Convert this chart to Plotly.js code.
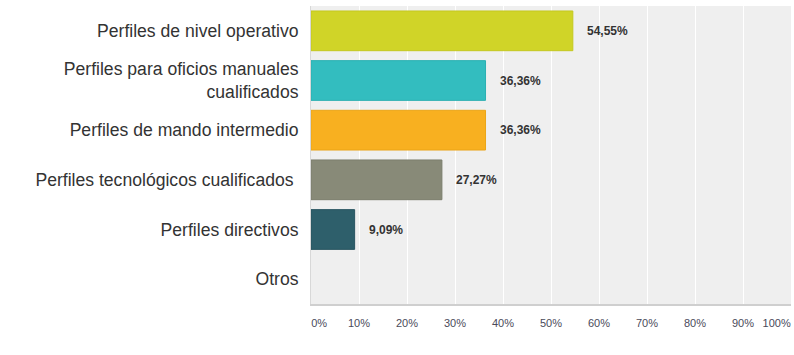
<!DOCTYPE html>
<html><head><meta charset="utf-8">
<script src="https://cdn.plot.ly/plotly-3.0.1.min.js"></script>
<style>html,body{margin:0;padding:0;background:#fff;}</style>
</head><body>
<div id="chart" style="width:794px;height:355px;"></div>
<script>
var categories = ["Perfiles de nivel operativo", "Perfiles para oficios manuales<br>cualificados", "Perfiles de mando intermedio", "Perfiles tecnológicos cualificados ", "Perfiles directivos", "Otros"];
var values = [54.55, 36.36, 36.36, 27.27, 9.09, 0];
var valueLabels = ["54,55%", "36,36%", "36,36%", "27,27%", "9,09%", ""];
var barColors = ["#d0d428", "#33bdbf", "#f8b020", "#888a78", "#2e5f6b", "#cccccc"];
var lineColors = ["#c4c81f", "#2bb0b2", "#eba518", "#7b7d6c", "#285460", "#cccccc"];
var lineWidths = [1, 1, 1, 1, 1, 0];
var gridVals = [0, 10, 20, 30, 40, 50, 60, 70, 80, 90, 100];
var tickPos = [1.7, 10, 20, 30, 40, 50, 60, 70, 80, 90, 97];
var tickText = ["0%", "10%", "20%", "30%", "40%", "50%", "60%", "70%", "80%", "90%", "100%"];

var trace = {
  type: "bar", orientation: "h",
  x: values, y: categories,
  marker: {color: barColors, line: {color: lineColors, width: lineWidths}},
  width: 0.8, hoverinfo: "none"
};
var dummy = {type: "scatter", x: [0], y: [categories[0]], xaxis: "x2", mode: "none", hoverinfo: "none", showlegend: false};

var annotations = values.map(function(v, i) {
  return {x: v, y: categories[i], xref: "x", yref: "y", text: "<b>" + valueLabels[i] + "</b>",
    showarrow: false, xanchor: "left", xshift: 12,
    font: {family: "Arial, Liberation Sans, sans-serif", size: 12, color: "#333"}};
});

var layout = {
  width: 794, height: 355,
  margin: {l: 311, r: 3, t: 6, b: 51, pad: 0},
  paper_bgcolor: "#ffffff", plot_bgcolor: "#efefef",
  showlegend: false,
  bargap: 0.2,
  xaxis: {range: [0, 100], tickvals: gridVals, showticklabels: false, showgrid: true, gridcolor: "#ffffff", gridwidth: 1,
    zeroline: false, showline: true, linecolor: "#cfcfcf", linewidth: 2, ticks: "", fixedrange: true},
  xaxis2: {range: [0, 100], overlaying: "x", side: "bottom", tickvals: tickPos, ticktext: tickText, showgrid: false,
    zeroline: false, showline: false, ticks: "", ticklabelstandoff: 11,
    tickfont: {family: "Arial, Liberation Sans, sans-serif", size: 11, color: "#4a4a5a"}},
  yaxis: {autorange: "reversed", showgrid: false, zeroline: false, showline: true, linecolor: "#d8d8d8", linewidth: 1,
    ticks: "", ticklabelstandoff: 8,
    tickfont: {family: "Arial, Liberation Sans, sans-serif", size: 17.6, color: "#333"}},
  annotations: annotations
};
Plotly.newPlot("chart", [trace, dummy], layout, {displayModeBar: false, staticPlot: true});
</script>
</body></html>
